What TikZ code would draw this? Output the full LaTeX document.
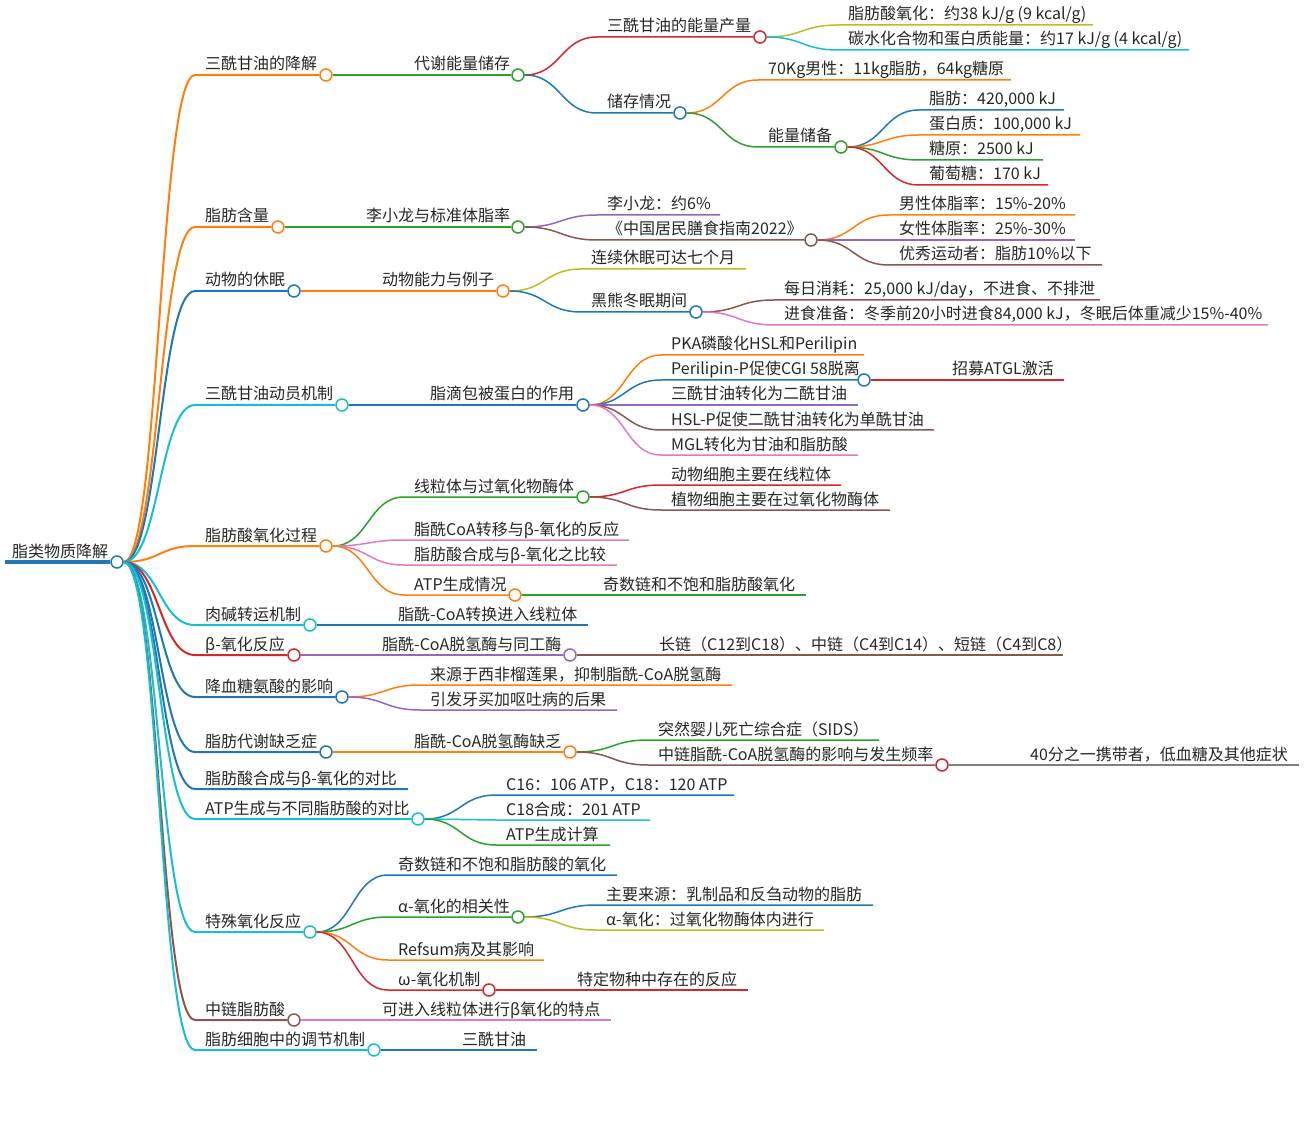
\documentclass[tikz,border=0pt]{standalone}
\usepackage{fontspec}
\setmainfont{Noto Sans CJK SC}
\usetikzlibrary{calc}
\definecolor{cblue}{HTML}{1F77B4}
\definecolor{corange}{HTML}{FF7F0E}
\definecolor{cgreen}{HTML}{2CA02C}
\definecolor{cred}{HTML}{D62728}
\definecolor{cpurple}{HTML}{9467BD}
\definecolor{cbrown}{HTML}{8C564B}
\definecolor{cpink}{HTML}{E377C2}
\definecolor{cgray}{HTML}{7F7F7F}
\definecolor{colive}{HTML}{BCBD22}
\definecolor{ccyan}{HTML}{17BECF}
\tikzset{
  label/.style={anchor=base west,inner sep=0pt,text=black!85,font=\fontsize{16}{16}\selectfont},
  knob/.style={circle,draw,fill=white,line width=1.5pt,minimum size=12pt,inner sep=0pt},
  link/.style={line width=1.5pt},
}
% parent, name, colour, text x, y, end x, text
\newcommand\leafnode[7]{%
  \node[label] (#2t) at (#4,#5-5) {#7};
  \coordinate (#2s) at (#4-10,#5);
  \coordinate (#2) at (#6,#5);
  \draw[link,#3] let \p1=(#1.east),\p2=(#2s),\n1={(\x2-\x1)/2} in
    (\p1) .. controls +(\n1,0) and +(-\n1,0) .. (\p2) -- (#2);
}
% parent, name, colour, text x, y, circle x, circle colour, text
\newcommand\branchnode[8]{%
  \node[label] (#2t) at (#4,#5-5) {#8};
  \coordinate (#2s) at (#4-10,#5);
  \node[knob,draw=#7] (#2) at (#6,#5) {};
  \draw[link,#3] let \p1=(#1.east),\p2=(#2s),\n1={(\x2-\x1)/2} in
    (\p1) .. controls +(\n1,0) and +(-\n1,0) .. (\p2) -- (#2.west);
}
\begin{document}
\begin{tikzpicture}[x=1pt,y=-1pt]
\useasboundingbox (0,0) rectangle (1304,1131);
% root
\node[label] (roott) at (12,557) {脂类物质降解};
\coordinate (roots) at (5,562);
\node[knob,draw=cblue] (root) at (117,562) {};
\draw[line width=3.2pt,cblue] (roots) -- (root.west);
% level 1
\tikzset{link/.style={line width=2pt}}
\branchnode{root}{a}{corange}{205}{75}{326}{corange}{三酰甘油的降解}
\branchnode{root}{b}{corange}{205}{227}{278}{corange}{脂肪含量}
\branchnode{root}{c}{cblue}{205}{291}{294}{cblue}{动物的休眠}
\branchnode{root}{d}{ccyan}{205}{405}{342}{ccyan}{三酰甘油动员机制}
\branchnode{root}{e}{corange}{205}{546}{326}{corange}{脂肪酸氧化过程}
\branchnode{root}{f}{ccyan}{205}{625}{310}{ccyan}{肉碱转运机制}
\branchnode{root}{g}{cred}{205}{655}{294}{cred}{β-氧化反应}
\branchnode{root}{h}{cblue}{205}{697}{342}{cblue}{降血糖氨酸的影响}
\branchnode{root}{i}{cblue}{205}{752}{326}{cblue}{脂肪代谢缺乏症}
\leafnode{root}{j}{cblue}{205}{789}{408}{脂肪酸合成与β-氧化的对比}
\branchnode{root}{k}{ccyan}{205}{819}{418}{ccyan}{ATP生成与不同脂肪酸的对比}
\branchnode{root}{l}{ccyan}{205}{932}{310}{ccyan}{特殊氧化反应}
\branchnode{root}{m}{cbrown}{205}{1020}{294}{cbrown}{中链脂肪酸}
\branchnode{root}{n}{ccyan}{205}{1050}{374}{ccyan}{脂肪细胞中的调节机制}
\tikzset{link/.style={line width=1.5pt}}
% branch a
\branchnode{a}{aa}{cgreen}{414}{75}{518}{cgreen}{代谢能量储存}
\branchnode{aa}{aaa}{cred}{607}{37}{760}{cred}{三酰甘油的能量产量}
\leafnode{aaa}{aaaa}{colive}{848}{25}{1093}{脂肪酸氧化：约38 kJ/g (9 kcal/g)}
\leafnode{aaa}{aaab}{ccyan}{848}{50}{1189}{碳水化合物和蛋白质能量：约17 kJ/g (4 kcal/g)}
\branchnode{aa}{aab}{cblue}{607}{113}{680}{cblue}{储存情况}
\leafnode{aab}{aaba}{corange}{768}{80}{1011}{70Kg男性：11kg脂肪，64kg糖原}
\branchnode{aab}{aabb}{cgreen}{768}{147}{841}{cgreen}{能量储备}
\leafnode{aabb}{aabba}{cblue}{929}{110}{1064}{脂肪：420,000 kJ}
\leafnode{aabb}{aabbb}{corange}{929}{135}{1080}{蛋白质：100,000 kJ}
\leafnode{aabb}{aabbc}{cgreen}{929}{160}{1043}{糖原：2500 kJ}
\leafnode{aabb}{aabbd}{cred}{929}{185}{1048}{葡萄糖：170 kJ}
% branch b
\branchnode{b}{ba}{cgreen}{366}{227}{518}{cgreen}{李小龙与标准体脂率}
\leafnode{ba}{baa}{cpurple}{607}{215}{720}{李小龙：约6\%}
\branchnode{ba}{bab}{cbrown}{607}{240}{811}{cbrown}{《中国居民膳食指南2022》}
\leafnode{bab}{baba}{corange}{899}{215}{1075}{男性体脂率：15\%-20\%}
\leafnode{bab}{babb}{cpurple}{899}{240}{1075}{女性体脂率：25\%-30\%}
\leafnode{bab}{babc}{cbrown}{899}{265}{1102}{优秀运动者：脂肪10\%以下}
% branch c
\branchnode{c}{ca}{corange}{382}{291}{503}{corange}{动物能力与例子}
\leafnode{ca}{caa}{colive}{591}{269}{746}{连续休眠可达七个月}
\branchnode{ca}{cab}{cblue}{591}{312}{696}{cblue}{黑熊冬眠期间}
\leafnode{cab}{caba}{cbrown}{784}{300}{1100}{每日消耗：25,000 kJ/day，不进食、不排泄}
\leafnode{cab}{cabb}{cpink}{784}{325}{1268}{进食准备：冬季前20小时进食84,000 kJ，冬眠后体重减少15\%-40\%}
% branch d
\branchnode{d}{da}{cblue}{430}{405}{583}{cblue}{脂滴包被蛋白的作用}
\leafnode{da}{daa}{corange}{671}{355}{864}{PKA磷酸化HSL和Perilipin}
\branchnode{da}{dab}{cblue}{671}{380}{864}{cblue}{Perilipin-P促使CGI 58脱离}
\leafnode{dab}{daba}{cred}{952}{380}{1064}{招募ATGL激活}
\leafnode{da}{dac}{cpurple}{671}{405}{858}{三酰甘油转化为二酰甘油}
\leafnode{da}{dad}{cbrown}{671}{430}{934}{HSL-P促使二酰甘油转化为单酰甘油}
\leafnode{da}{dae}{cpink}{671}{455}{858}{MGL转化为甘油和脂肪酸}
% branch e
\branchnode{e}{ea}{cgreen}{414}{497}{583}{cgreen}{线粒体与过氧化物酶体}
\leafnode{ea}{eaa}{cred}{671}{485}{841}{动物细胞主要在线粒体}
\leafnode{ea}{eab}{cbrown}{671}{510}{890}{植物细胞主要在过氧化物酶体}
\leafnode{e}{eb}{cpink}{414}{540}{629}{脂酰CoA转移与β-氧化的反应}
\leafnode{e}{ec}{cpink}{414}{565}{617}{脂肪酸合成与β-氧化之比较}
\branchnode{e}{ed}{corange}{414}{595}{515}{corange}{ATP生成情况}
\leafnode{ed}{eda}{cgreen}{603}{595}{806}{奇数链和不饱和脂肪酸氧化}
% branches f, g, h
\leafnode{f}{fa}{cblue}{398}{625}{588}{脂酰-CoA转换进入线粒体}
\branchnode{g}{ga}{cpurple}{382}{655}{570}{cpurple}{脂酰-CoA脱氢酶与同工酶}
\leafnode{ga}{gaa}{cbrown}{659}{655}{1063}{长链（C12到C18）、中链（C4到C14）、短链（C4到C8）}
\leafnode{h}{ha}{corange}{430}{685}{732}{来源于西非榴莲果，抑制脂酰-CoA脱氢酶}
\leafnode{h}{hb}{cpurple}{430}{710}{617}{引发牙买加呕吐病的后果}
% branch i
\branchnode{i}{ia}{corange}{414}{752}{570}{corange}{脂酰-CoA脱氢酶缺乏}
\leafnode{ia}{iaa}{cgreen}{658}{740}{879}{突然婴儿死亡综合症（SIDS）}
\branchnode{ia}{iab}{cbrown}{658}{765}{942}{cred}{中链脂酰-CoA脱氢酶的影响与发生频率}
\leafnode{iab}{iaba}{cgray}{1030}{765}{1299}{40分之一携带者，低血糖及其他症状}
% branch k
\leafnode{k}{ka}{cblue}{506}{795}{734}{C16：106 ATP，C18：120 ATP}
\leafnode{k}{kb}{ccyan}{506}{820}{650}{C18合成：201 ATP}
\leafnode{k}{kc}{cgreen}{506}{845}{610}{ATP生成计算}
% branch l
\leafnode{l}{la}{cblue}{398}{875}{617}{奇数链和不饱和脂肪酸的氧化}
\branchnode{l}{lb}{cgreen}{398}{917}{518}{cgreen}{α-氧化的相关性}
\leafnode{lb}{lba}{cblue}{606}{905}{873}{主要来源：乳制品和反刍动物的脂肪}
\leafnode{lb}{lbb}{colive}{606}{930}{824}{α-氧化：过氧化物酶体内进行}
\leafnode{l}{lc}{corange}{398}{960}{544}{Refsum病及其影响}
\branchnode{l}{ld}{cred}{398}{990}{489}{cred}{ω-氧化机制}
\leafnode{ld}{lda}{cred}{577}{990}{748}{特定物种中存在的反应}
% branches m, n
\leafnode{m}{ma}{cpink}{382}{1020}{611}{可进入线粒体进行β氧化的特点}
\leafnode{n}{na}{cblue}{462}{1050}{537}{三酰甘油}
\end{tikzpicture}
\end{document}
